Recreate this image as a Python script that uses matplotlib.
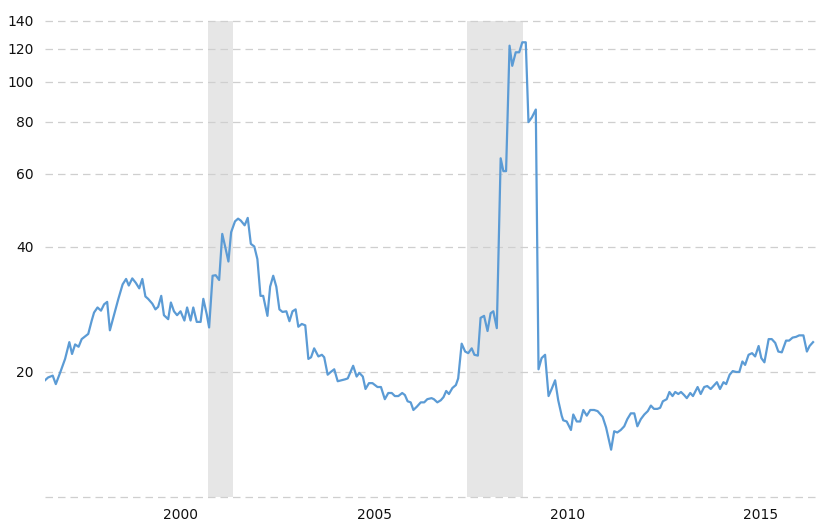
import matplotlib
matplotlib.use("Agg")
import matplotlib.pyplot as plt
from matplotlib.ticker import NullLocator

# (decimal year, value)
years = [1996.48, 1996.56, 1996.68, 1996.76, 1996.87, 1997.00, 1997.11, 1997.18, 1997.26, 1997.35,
         1997.43, 1997.60, 1997.69, 1997.75, 1997.84, 1997.93, 1998.01, 1998.09, 1998.16, 1998.26,
         1998.38, 1998.49, 1998.58, 1998.65, 1998.74, 1998.83, 1998.92, 1999.00, 1999.08, 1999.15,
         1999.26, 1999.34, 1999.41, 1999.49, 1999.56, 1999.67, 1999.74, 1999.82, 1999.90, 1999.99,
         2000.09, 2000.16, 2000.25, 2000.32, 2000.41, 2000.51, 2000.58, 2000.67, 2000.73, 2000.82,
         2000.90, 2000.99, 2001.07, 2001.15, 2001.23, 2001.30, 2001.40, 2001.48, 2001.55, 2001.65,
         2001.73, 2001.81, 2001.90, 2001.98, 2002.06, 2002.13, 2002.24, 2002.31, 2002.39, 2002.47,
         2002.55, 2002.63, 2002.73, 2002.81, 2002.89, 2002.97, 2003.04, 2003.13, 2003.22, 2003.30,
         2003.37, 2003.45, 2003.56, 2003.65, 2003.71, 2003.80, 2003.88, 2003.97, 2004.06, 2004.16,
         2004.25, 2004.32, 2004.46, 2004.55, 2004.62, 2004.71, 2004.78, 2004.87, 2004.96, 2005.09,
         2005.18, 2005.28, 2005.37, 2005.46, 2005.54, 2005.63, 2005.73, 2005.80, 2005.87, 2005.95,
         2006.02, 2006.11, 2006.21, 2006.30, 2006.38, 2006.49, 2006.55, 2006.64, 2006.73, 2006.80,
         2006.87, 2006.94, 2007.03, 2007.12, 2007.18, 2007.27, 2007.36, 2007.44, 2007.53, 2007.60,
         2007.69, 2007.76, 2007.85, 2007.94, 2008.02, 2008.09, 2008.18, 2008.28, 2008.35, 2008.42,
         2008.51, 2008.58, 2008.67, 2008.76, 2008.84, 2008.93, 2009.00, 2009.09, 2009.19, 2009.26,
         2009.34, 2009.43, 2009.52, 2009.60, 2009.69, 2009.77, 2009.86, 2009.90, 2009.99, 2010.10,
         2010.16, 2010.25, 2010.34, 2010.42, 2010.51, 2010.60, 2010.70, 2010.79, 2010.92, 2011.01,
         2011.07, 2011.14, 2011.22, 2011.30, 2011.39, 2011.48, 2011.56, 2011.65, 2011.74, 2011.82,
         2011.91, 2012.00, 2012.09, 2012.17, 2012.25, 2012.34, 2012.41, 2012.48, 2012.58, 2012.65,
         2012.73, 2012.80, 2012.88, 2012.95, 2013.03, 2013.10, 2013.19, 2013.26, 2013.38, 2013.46,
         2013.55, 2013.63, 2013.72, 2013.79, 2013.88, 2013.96, 2014.05, 2014.12, 2014.21, 2014.29,
         2014.38, 2014.46, 2014.54, 2014.61, 2014.70, 2014.79, 2014.87, 2014.96, 2015.03, 2015.11,
         2015.22, 2015.30, 2015.39, 2015.47, 2015.56, 2015.67, 2015.75, 2015.84, 2015.93, 2016.01,
         2016.12, 2016.21, 2016.28, 2016.37]
values = [19.1, 19.4, 19.6, 18.7, 19.9, 21.5, 23.6, 22.1, 23.3, 23.0,
          24.0, 24.7, 26.6, 27.8, 28.6, 28.1, 29.1, 29.5, 25.2, 27.3,
          30.0, 32.5, 33.5, 32.3, 33.6, 32.8, 31.8, 33.5, 30.4, 30.0,
          29.2, 28.3, 28.7, 30.5, 27.4, 26.8, 29.4, 28.0, 27.4, 28.0,
          26.6, 28.6, 26.6, 28.6, 26.4, 26.4, 30.0, 27.5, 25.6, 34.1,
          34.2, 33.3, 43.0, 39.9, 36.9, 43.4, 46.1, 46.8, 46.3, 45.1,
          47.0, 40.7, 40.1, 37.4, 30.5, 30.5, 27.3, 32.1, 34.1, 32.1,
          28.3, 27.9, 28.0, 26.5, 28.0, 28.3, 25.7, 26.1, 25.9, 21.5,
          21.7, 22.8, 21.8, 22.0, 21.7, 19.7, 20.0, 20.3, 19.0, 19.1,
          19.2, 19.3, 20.7, 19.5, 19.9, 19.5, 18.2, 18.8, 18.8, 18.4,
          18.4, 17.2, 17.8, 17.8, 17.5, 17.5, 17.8, 17.6, 17.0, 16.9,
          16.2, 16.5, 16.9, 16.9, 17.2, 17.3, 17.2, 16.9, 17.1, 17.4,
          18.0, 17.7, 18.3, 18.6, 19.3, 23.4, 22.4, 22.2, 22.8, 22.0,
          21.9, 27.0, 27.3, 25.1, 27.7, 28.0, 25.5, 65.4, 60.9, 60.9,
          122.1, 109.2, 117.7, 117.7, 124.4, 124.4, 79.9, 82.1, 85.7, 20.3,
          21.6, 22.0, 17.5, 18.2, 19.1, 17.1, 15.7, 15.3, 15.2, 14.5,
          15.8, 15.2, 15.2, 16.2, 15.7, 16.2, 16.2, 16.1, 15.6, 14.7,
          13.9, 13.0, 14.4, 14.3, 14.5, 14.8, 15.4, 15.9, 15.9, 14.8,
          15.4, 15.8, 16.1, 16.6, 16.3, 16.3, 16.4, 17.0, 17.2, 17.9,
          17.5, 17.9, 17.7, 17.9, 17.6, 17.3, 17.8, 17.5, 18.4, 17.7,
          18.4, 18.5, 18.2, 18.5, 18.9, 18.2, 18.9, 18.7, 19.7, 20.1,
          20.0, 20.0, 21.2, 20.8, 22.0, 22.2, 21.8, 23.1, 21.6, 21.1,
          24.0, 24.0, 23.5, 22.4, 22.3, 23.8, 23.8, 24.2, 24.3, 24.5,
          24.5, 22.4, 23.1, 23.6]

recessions = [(2000.69, 2001.355), (2007.40, 2008.85)]

ytick_vals = [10, 20, 40, 60, 80, 100, 120, 140]
ytick_labels = ["", "20", "40", "60", "80", "100", "120", "140"]
xtick_vals = [2000, 2005, 2010, 2015]

fig = plt.figure(figsize=(8.23, 5.24), dpi=100)
ax = fig.add_axes([45 / 823, 27 / 524, 770 / 823, 476 / 524])

for start, end in recessions:
    ax.axvspan(start, end, color="#e6e6e6", lw=0, zorder=0)

# dashed horizontal gridlines, not clipped so top and bottom show fully
for v in ytick_vals:
    ax.axhline(v, color="#cfcfcf", linestyle=(0, (6, 4)), lw=0.9, zorder=1, clip_on=False)

ax.plot(years, values, color="#5b9bd5", lw=1.6, zorder=3)

ax.set_yscale("log")
ax.set_ylim(10, 140)
ax.set_xlim(1996.48, 2016.42)
ax.set_yticks(ytick_vals)
ax.set_yticklabels(ytick_labels)
ax.yaxis.set_minor_locator(NullLocator())
ax.set_xticks(xtick_vals)
ax.set_xticklabels([str(v) for v in xtick_vals])

for s in ax.spines.values():
    s.set_visible(False)
ax.tick_params(axis="both", length=0, labelsize=10, colors="#111111")
ax.tick_params(axis="y", pad=8)
ax.tick_params(axis="x", pad=8)

plt.savefig("out.png", dpi=100)
